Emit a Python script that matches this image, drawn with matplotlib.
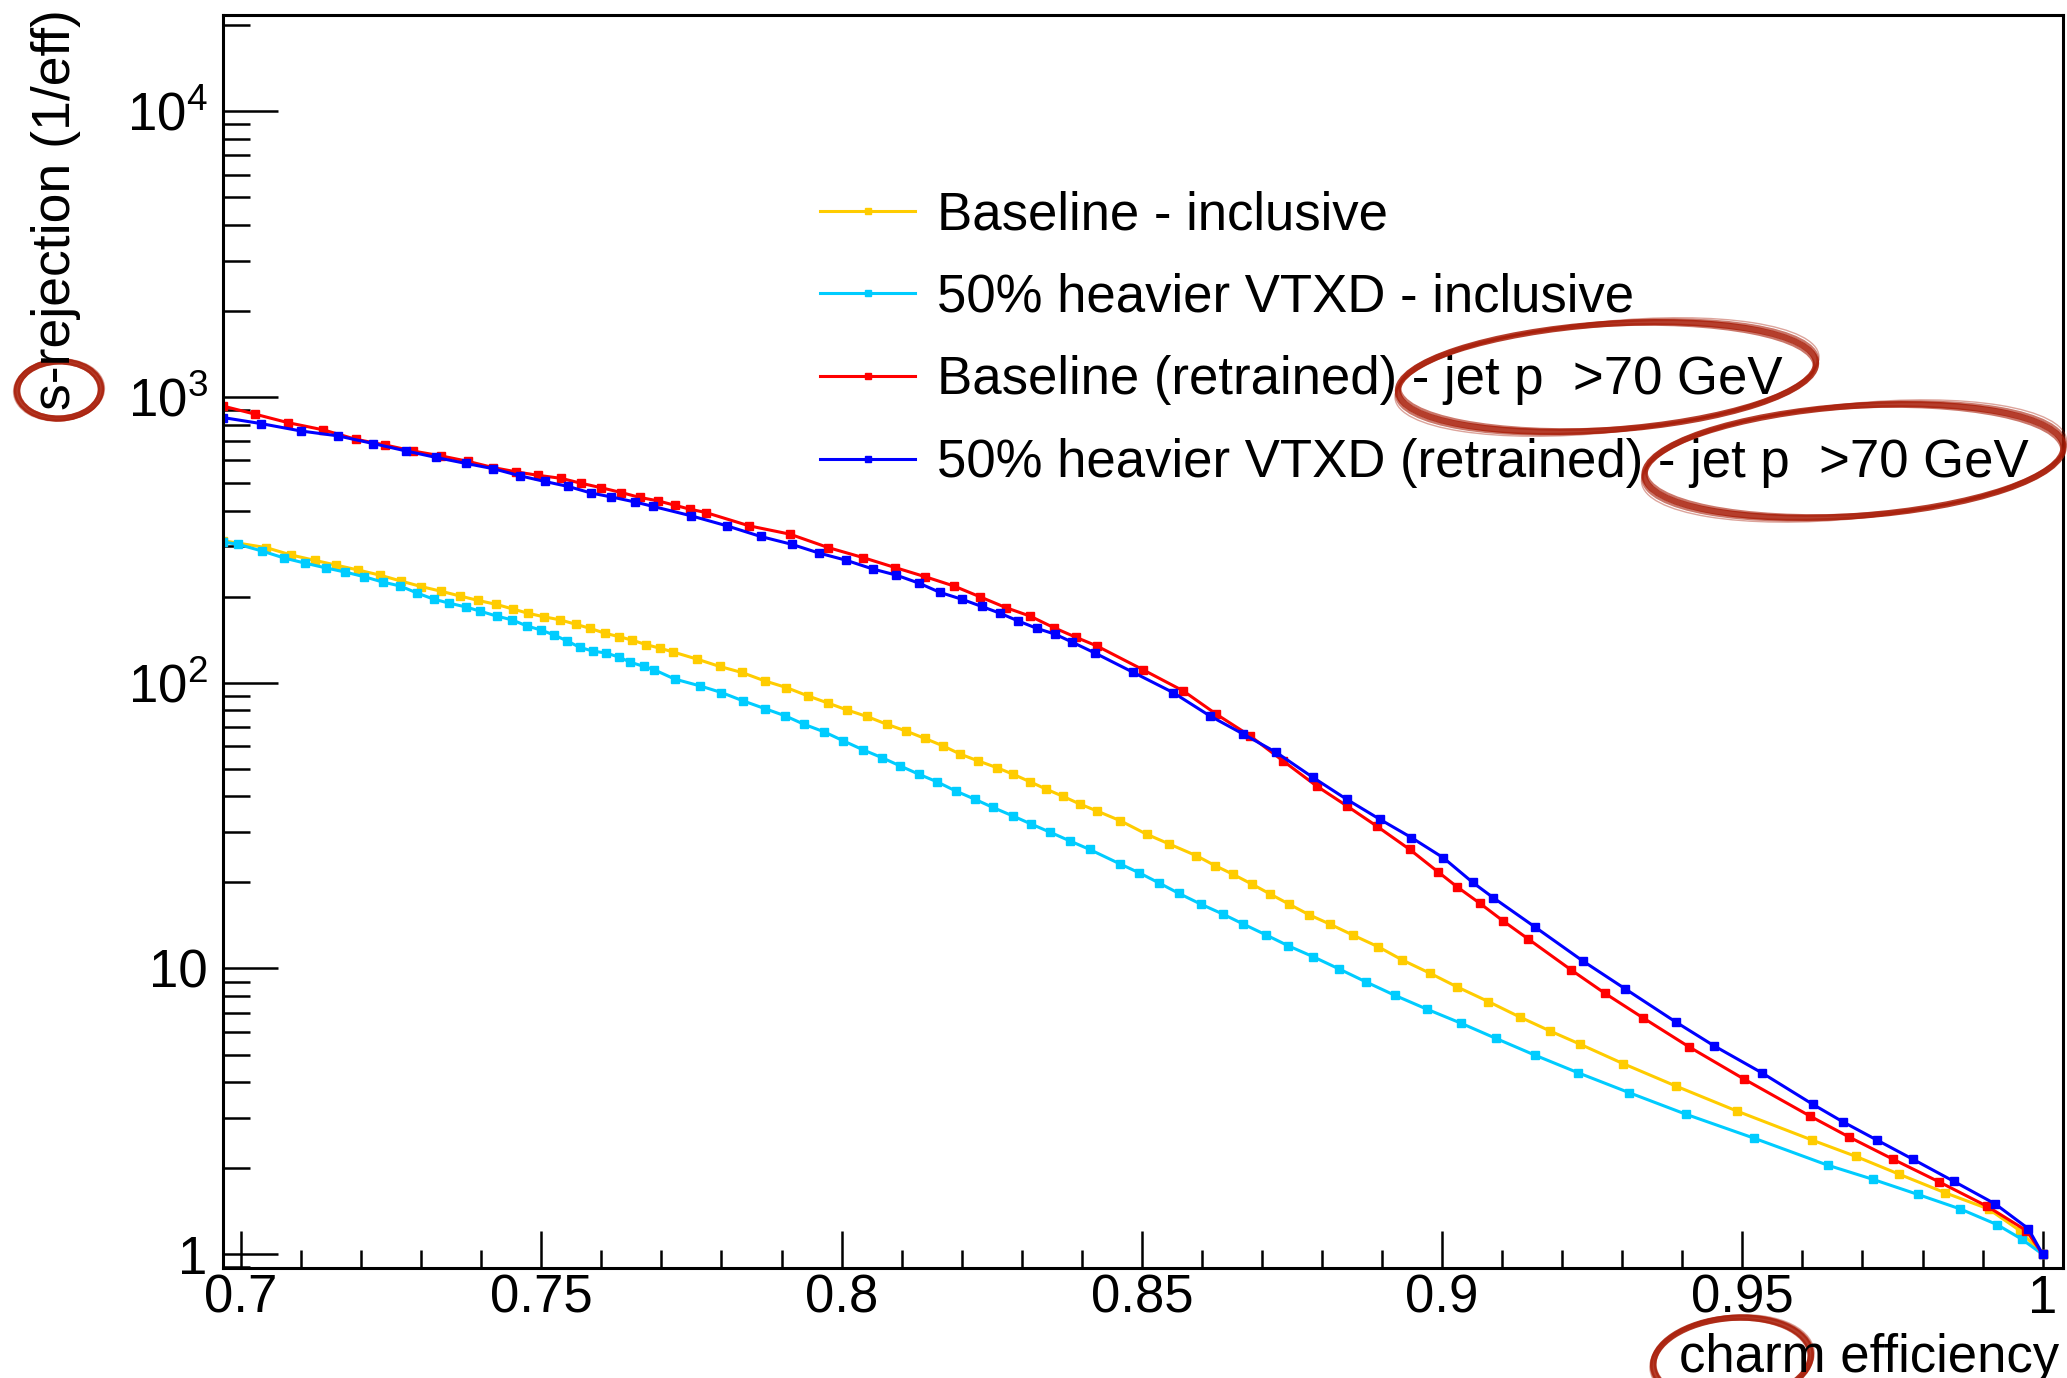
import matplotlib
matplotlib.use("Agg")
import matplotlib.pyplot as plt
from matplotlib.patches import Ellipse
from matplotlib.transforms import IdentityTransform
from matplotlib.ticker import FixedLocator, LogLocator, MultipleLocator, NullFormatter

plt.rcParams['font.family'] = ['Liberation Sans', 'DejaVu Sans']
plt.rcParams['mathtext.fontset'] = 'custom'
plt.rcParams['mathtext.rm'] = 'Liberation Sans'
plt.rcParams['mathtext.it'] = 'Liberation Sans:italic'
plt.rcParams['mathtext.bf'] = 'Liberation Sans:bold'

# ROC curves: charm efficiency vs s-jet rejection
eff_base = [0.6970, 0.7042, 0.7083, 0.7123, 0.7158, 0.7195, 0.7231, 0.7266, 0.7300, 0.7333,
            0.7365, 0.7395, 0.7425, 0.7453, 0.7478, 0.7505, 0.7531, 0.7558, 0.7581, 0.7606,
            0.7629, 0.7651, 0.7674, 0.7698, 0.7720, 0.7759, 0.7797, 0.7834, 0.7872, 0.7908,
            0.7944, 0.7978, 0.8009, 0.8042, 0.8075, 0.8107, 0.8139, 0.8169, 0.8198, 0.8227,
            0.8258, 0.8286, 0.8314, 0.8341, 0.8369, 0.8397, 0.8425, 0.8464, 0.8508, 0.8545,
            0.8591, 0.8622, 0.8651, 0.8684, 0.8714, 0.8745, 0.8779, 0.8813, 0.8851, 0.8894,
            0.8934, 0.8980, 0.9025, 0.9077, 0.9129, 0.9180, 0.9230, 0.9301, 0.9389, 0.9491,
            0.9616, 0.9689, 0.9760, 0.9838, 0.9910, 0.9962, 1.0000]
rej_base = [314, 297, 280, 268, 258, 248, 238, 227, 217, 209,
            201, 194, 188, 181, 175, 170, 166, 160, 155, 149,
            145, 141, 136, 132, 128, 121, 114, 108.6, 101.5, 96.2,
            89.9, 84.8, 80.3, 76.2, 71.6, 67.8, 63.8, 60.1, 56.2, 53.3,
            50.5, 47.8, 45.0, 42.4, 40.0, 37.6, 35.6, 32.9, 29.5, 27.3,
            24.8, 22.9, 21.4, 19.7, 18.2, 16.8, 15.4, 14.3, 13.1, 11.9,
            10.7, 9.62, 8.62, 7.66, 6.77, 6.04, 5.43, 4.65, 3.88, 3.17,
            2.51, 2.20, 1.91, 1.64, 1.44, 1.21, 1.00]

eff_heavy = [0.6970, 0.6995, 0.7035, 0.7072, 0.7107, 0.7142, 0.7173, 0.7205, 0.7236, 0.7265,
             0.7293, 0.7321, 0.7346, 0.7375, 0.7398, 0.7426, 0.7451, 0.7476, 0.7499, 0.7521,
             0.7543, 0.7564, 0.7586, 0.7608, 0.7629, 0.7648, 0.7671, 0.7688, 0.7722, 0.7764,
             0.7800, 0.7836, 0.7872, 0.7906, 0.7937, 0.7971, 0.8003, 0.8036, 0.8067, 0.8098,
             0.8129, 0.8159, 0.8190, 0.8222, 0.8252, 0.8285, 0.8316, 0.8347, 0.8381, 0.8413,
             0.8464, 0.8496, 0.8529, 0.8562, 0.8598, 0.8635, 0.8669, 0.8707, 0.8744, 0.8785,
             0.8829, 0.8873, 0.8921, 0.8975, 0.9031, 0.9089, 0.9154, 0.9226, 0.9311, 0.9406,
             0.9519, 0.9642, 0.9717, 0.9792, 0.9863, 0.9924, 0.9965, 1.0000]
rej_heavy = [311, 305, 289, 273, 262, 252, 244, 235, 225, 218,
             206, 196, 190, 184, 178, 171, 166, 158, 153, 147,
             140, 133, 129, 127, 123, 118, 114, 111, 103, 97.5,
             92.4, 86.4, 81.2, 76.6, 71.6, 67.3, 62.6, 58.2, 54.7, 51.1,
             47.8, 45.0, 41.8, 39.1, 36.6, 34.2, 32.0, 30.0, 27.9, 26.1,
             23.2, 21.6, 19.9, 18.3, 16.8, 15.5, 14.3, 13.1, 12.0, 11.0,
             9.95, 8.98, 8.06, 7.20, 6.44, 5.70, 4.98, 4.32, 3.68, 3.09,
             2.55, 2.05, 1.83, 1.62, 1.44, 1.27, 1.13, 1.00]

eff_base_rt = [0.6970, 0.7023, 0.7078, 0.7137, 0.7191, 0.7240, 0.7286, 0.7333, 0.7378, 0.7420,
               0.7458, 0.7494, 0.7533, 0.7566, 0.7600, 0.7633, 0.7664, 0.7694, 0.7722, 0.7747,
               0.7774, 0.7846, 0.7914, 0.7978, 0.8036, 0.8089, 0.8139, 0.8187, 0.8230, 0.8274,
               0.8314, 0.8353, 0.8391, 0.8425, 0.8502, 0.8569, 0.8624, 0.8680, 0.8735, 0.8791,
               0.8841, 0.8891, 0.8946, 0.8993, 0.9025, 0.9063, 0.9101, 0.9143, 0.9215, 0.9271,
               0.9334, 0.9411, 0.9503, 0.9612, 0.9678, 0.9751, 0.9828, 0.9908, 0.9973, 1.0000]
rej_base_rt = [929, 871, 813, 767, 711, 679, 647, 622, 595, 566,
               547, 532, 519, 499, 481, 463, 445, 433, 418, 405,
               394, 354, 331, 297, 274, 253, 235, 218, 200, 183,
               171, 156, 144, 134.5, 111, 93.6, 77.6, 65.2, 53.3, 43.5,
               37.1, 31.5, 26.1, 21.8, 19.3, 16.9, 14.7, 12.7, 9.88, 8.19,
               6.73, 5.32, 4.10, 3.05, 2.57, 2.15, 1.79, 1.47, 1.21, 1.00]

eff_heavy_rt = [0.6970, 0.7033, 0.7100, 0.7161, 0.7220, 0.7275, 0.7325, 0.7375, 0.7420, 0.7464,
                0.7506, 0.7545, 0.7583, 0.7616, 0.7656, 0.7686, 0.7749, 0.7809, 0.7865, 0.7917,
                0.7963, 0.8007, 0.8052, 0.8091, 0.8129, 0.8164, 0.8200, 0.8233, 0.8264, 0.8294,
                0.8325, 0.8355, 0.8383, 0.8422, 0.8486, 0.8552, 0.8613, 0.8669, 0.8724, 0.8785,
                0.8841, 0.8896, 0.8949, 0.9002, 0.9051, 0.9085, 0.9154, 0.9235, 0.9304, 0.9389,
                0.9453, 0.9532, 0.9617, 0.9667, 0.9724, 0.9784, 0.9852, 0.9921, 0.9976, 1.0000]
rej_heavy_rt = [847, 807, 760, 731, 687, 647, 614, 585, 561, 530,
                506, 486, 461, 447, 429, 414, 384, 354, 325, 305,
                284, 268.5, 250, 238, 223, 207, 196, 185, 175, 164.5,
                155, 148, 139, 127, 108.6, 92.4, 76.6, 66.1, 57.0, 46.6,
                39.1, 33.3, 28.7, 24.4, 20.0, 17.7, 14.0, 10.6, 8.51, 6.50,
                5.36, 4.32, 3.35, 2.91, 2.51, 2.15, 1.80, 1.50, 1.23, 1.00]

labels = ["Baseline - inclusive",
          "50% heavier VTXD - inclusive",
          "Baseline (retrained) - jet p  >70 GeV",
          "50% heavier VTXD (retrained) - jet p  >70 GeV"]
colors = ["#FFCC00", "#00CCFF", "#FF0000", "#0000FF"]

x_ticks = [0.7, 0.75, 0.8, 0.85, 0.9, 0.95, 1.0]
x_ticklabels = ["0.7", "0.75", "0.8", "0.85", "0.9", "0.95", "1"]
y_ticks = [1, 10, 100, 1000, 10000]
y_ticklabels = ["1", "10", r"$10^{2}$", r"$10^{3}$", r"$10^{4}$"]

fig = plt.figure(figsize=(20.67, 13.78), dpi=100)
ax = fig.add_axes([0.1079, 0.0798, 0.8902, 0.9093])

series = [(eff_base, rej_base), (eff_heavy, rej_heavy),
          (eff_base_rt, rej_base_rt), (eff_heavy_rt, rej_heavy_rt)]
for (xs, ys), col, lab in zip(series, colors, labels):
    ax.plot(xs, ys, color=col, lw=2.2, marker='s', ms=5.8, mec=col, mfc=col, label=lab)

ax.set_yscale('log')
ax.set_xlim(0.697, 1.0034)
ax.set_ylim(0.895, 21700)

ax.xaxis.set_major_locator(FixedLocator(x_ticks))
ax.set_xticklabels(x_ticklabels)
ax.xaxis.set_minor_locator(MultipleLocator(0.01))
ax.yaxis.set_major_locator(FixedLocator(y_ticks))
ax.set_yticklabels(y_ticklabels)
ax.yaxis.set_minor_locator(LogLocator(base=10, subs=range(2, 10), numticks=20))
ax.yaxis.set_minor_formatter(NullFormatter())

ax.tick_params(axis='both', which='both', direction='in', top=False, right=False,
               labelsize=38, width=1.8, color='black')
ax.tick_params(axis='x', which='major', length=26.6, pad=4)
ax.tick_params(axis='x', which='minor', length=13)
ax.tick_params(axis='y', which='major', length=39.6, pad=11)
ax.tick_params(axis='y', which='minor', length=19.5)
for sp in ax.spines.values():
    sp.set_linewidth(2.2)

fig.text(2059 / 2067, 6 / 1378, "charm efficiency", ha='right', va='baseline', fontsize=38)
fig.text(56 / 2067, 1 - 9 / 1378, "s-rejection (1/eff)", rotation=90,
         ha='center', va='top', fontsize=38.5)

ax.legend(loc='upper left', bbox_to_anchor=(820 / 2067, 1 - 190 / 1378),
          bbox_transform=fig.transFigure, frameon=False, fontsize=38,
          borderpad=0, borderaxespad=0, handlelength=1.8, handletextpad=0.42,
          labelspacing=0.62, numpoints=1, markerscale=0.8)

# hand-drawn red rings
ring_color = "#A81C07"
rings = [(59, 988, 84, 57, 2),
         (1607, 1001, 419, 106, 4),
         (1854, 917, 420, 110, 4),
         (1732, 18, 158, 84, 5)]
strokes = [(0, 0, 0.0, 4.5, 0.85), (4, 3, 1.0, 2.0, 0.6), (-4, -3, -1.0, 2.0, 0.6),
           (7, 5, 1.8, 1.0, 0.4)]
for cx, cy, w, h, ang in rings:
    for dw, dh, da, lw, al in strokes:
        fig.add_artist(Ellipse((cx, cy), w + dw, h + dh, angle=ang + da,
                               transform=IdentityTransform(), fill=False,
                               edgecolor=ring_color, lw=lw, alpha=al))

fig.savefig("out.png", dpi=100)
